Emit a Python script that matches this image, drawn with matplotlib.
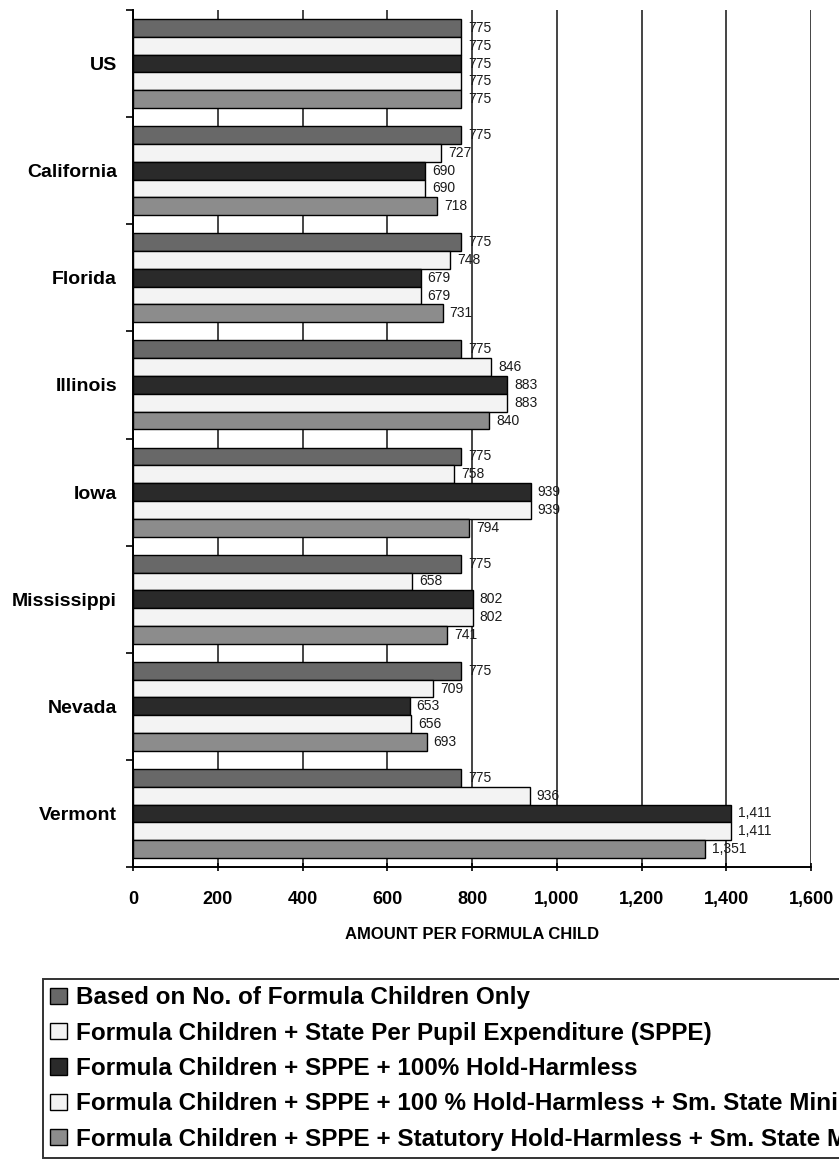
import matplotlib
matplotlib.use("Agg")
import matplotlib.pyplot as plt
from matplotlib.patches import Patch
import numpy as np

plt.rcParams['font.family'] = ['Liberation Sans', 'DejaVu Sans']

states = ["US", "California", "Florida", "Illinois", "Iowa", "Mississippi", "Nevada", "Vermont"]
series_names = [
    "Based on No. of Formula Children Only",
    "Formula Children + State Per Pupil Expenditure (SPPE)",
    "Formula Children + SPPE + 100% Hold-Harmless",
    "Formula Children + SPPE + 100 % Hold-Harmless + Sm. State Minimum",
    "Formula Children + SPPE + Statutory Hold-Harmless + Sm. State Minimum",
]
based_on_children = [775, 775, 775, 775, 775, 775, 775, 775]
plus_sppe = [775, 727, 748, 846, 758, 658, 709, 936]
plus_hold_harmless = [775, 690, 679, 883, 939, 802, 653, 1411]
plus_hh_small_state = [775, 690, 679, 883, 939, 802, 656, 1411]
statutory_hh_small_state = [775, 718, 731, 840, 794, 741, 693, 1351]
xticks = [0, 200, 400, 600, 800, 1000, 1200, 1400, 1600]

series = [based_on_children, plus_sppe, plus_hold_harmless, plus_hh_small_state, statutory_hh_small_state]
colors = ["#686868", "#f3f3f3", "#2a2a2a", "#f3f3f3", "#8c8c8c"]

W, H = 839, 1161
fig = plt.figure(figsize=(W/100, H/100), dpi=100)
ax = fig.add_axes([133/W, 1 - 867/H, (811 - 133)/W, (867 - 10)/H])

n = len(states)
bh = 0.166
centers = np.arange(n)
for j, (vals, col) in enumerate(zip(series, colors)):
    ys = centers + (j - 2) * bh
    ax.barh(ys, vals, height=bh, color=col, edgecolor="black", linewidth=1.0, zorder=3)
    for y, v in zip(ys, vals):
        ax.annotate(f"{v:,}", xy=(v, y), xytext=(5, 0), textcoords="offset points",
                    va="center", ha="left", fontsize=10, color="#1a1a1a", zorder=4)

ax.set_ylim(n - 0.5, -0.5)
ax.set_xlim(0, 1600)
ax.set_xticks(xticks)
ax.set_xticklabels([f"{t:,}" for t in xticks], fontsize=13, fontweight="bold")
ax.xaxis.grid(True, color="#444444", linewidth=1.4, zorder=0)
ax.set_axisbelow(True)

ax.set_yticks(np.arange(n + 1) - 0.5)
ax.set_yticklabels([])
ax.set_yticks(centers, minor=True)
ax.set_yticklabels(states, minor=True, fontsize=14, fontweight="bold")
ax.tick_params(axis="y", which="minor", length=0, pad=11.5)
ax.tick_params(axis="y", which="major", length=5, width=1.2, direction="out")
ax.tick_params(axis="x", length=6, width=1.2, direction="inout", pad=14)

for s in ["top", "right"]:
    ax.spines[s].set_visible(False)
for s in ["left", "bottom"]:
    ax.spines[s].set_linewidth(1.4)

ax.set_xlabel("AMOUNT PER FORMULA CHILD", fontsize=12, fontweight="bold", labelpad=14)

handles = [Patch(facecolor=c, edgecolor="black", linewidth=1.0) for c in colors]
leg = fig.legend(handles, series_names, loc="upper left",
                 bbox_to_anchor=(43/W, 1 - 979/H),
                 prop={"size": 17.5, "weight": "bold"},
                 handlelength=0.7, handleheight=0.65, handletextpad=0.35,
                 labelspacing=0.51, borderpad=0.3, borderaxespad=0,
                 frameon=True, fancybox=False, edgecolor="black")
leg.get_frame().set_linewidth(1.4)

fig.savefig("out.png", dpi=100)
